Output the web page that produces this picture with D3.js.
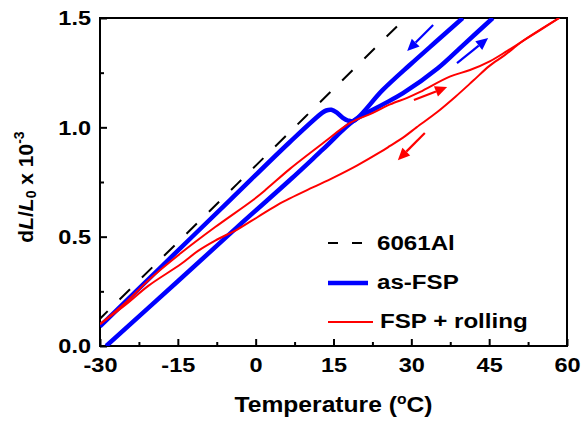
<!DOCTYPE html>
<html>
<head>
<meta charset="utf-8">
<script src="https://cdn.jsdelivr.net/npm/d3@7"></script>
<style>
  body { margin: 0; background: #fff; }
  text { font-family: "Liberation Sans", Arial, sans-serif; font-weight: bold; fill: #000; }
</style>
</head>
<body>
<div id="chart"></div>
<script>
// ---- data ----
var tempTicks = [-30, -15, 0, 15, 30, 45, 60];
var tempMinor = [-22.5, -7.5, 7.5, 22.5, 37.5, 52.5];
var strainTicks = [0.0, 0.5, 1.0, 1.5];
var strainMinor = [0.25, 0.75, 1.25];

// 6061Al reference
var alTemp  = [-30, -3.4, 27.5];
var alValue = [0.125, 0.745, 1.468];

// as-FSP heating (lower branch, up to the right)
var fspHeatTemp  = [-28.8, -15, -3.4, 6.6, 13, 18.9, 24, 28.4, 35.1, 40, 45.7];
var fspHeatValue = [0, 0.296, 0.547, 0.759, 0.9, 1.03, 1.098, 1.156, 1.27, 1.376, 1.5];
// as-FSP cooling (upper branch, with the bump)
var fspCoolTemp  = [39.9, 35, 29.7, 24.5, 18.9, 17.8, 16.8, 15.6, 14.6, 13.6, 12.8, 6.6, -5, -18, -30];
var fspCoolValue = [1.5, 1.397, 1.285, 1.171, 1.03, 1.031, 1.043, 1.068, 1.08, 1.077, 1.066, 0.933, 0.666, 0.367, 0.09];

// FSP + rolling heating
var rollHeatTemp  = [-30, -25, -20.7, -14.4, -7.8, -0.5, 2.2, 6.6, 13, 18.2, 22.6, 25.9, 29.2, 31.7, 37.4, 41.3, 45.2, 48.5, 51.5, 58.5];
var rollHeatValue = [0.1, 0.2, 0.3, 0.425, 0.544, 0.668, 0.72, 0.81, 0.928, 1.02, 1.066, 1.105, 1.135, 1.162, 1.232, 1.262, 1.303, 1.35, 1.395, 1.5];
// FSP + rolling cooling
var rollCoolTemp  = [58.5, 51.5, 48, 45, 42, 38.5, 35, 31, 28.8, 25.9, 23.9, 19.5, 15, 11, 6.6, 4.7, 0.4, -3.4, -7.8, -11.1, -14.4, -20.7, -25, -30];
var rollCoolValue = [1.5, 1.395, 1.33, 1.28, 1.215, 1.14, 1.07, 1.0, 0.96, 0.915, 0.885, 0.825, 0.77, 0.725, 0.675, 0.652, 0.59, 0.535, 0.482, 0.435, 0.375, 0.275, 0.19, 0.1];

// arrows: [tailT, tailV, headT, headV]
var fspArrows  = [[34.2, 1.468, 29.2, 1.349], [38.8, 1.294, 44.8, 1.408]];
var rollArrows = [[30.5, 1.125, 36.9, 1.184], [32.6, 0.974, 27.4, 0.85]];

var seriesNames = ["6061Al", "as-FSP", "FSP + rolling"];

// ---- layout ----
var margin = {top: 18, right: 15, bottom: 78, left: 100},
    width = 582 - margin.left - margin.right,
    height = 424 - margin.top - margin.bottom;
var blue = "#0000ff", red = "#ff0000";
var stretch = 1.12;

var svg = d3.select("#chart").append("svg")
    .attr("width", 582)
    .attr("height", 424)
  .append("g")
    .attr("transform", "translate(" + margin.left + "," + margin.top + ")");

var x = d3.scaleLinear().domain([-30, 60]).range([0, width]);
var y = d3.scaleLinear().domain([0, 1.5]).range([height, 0]);

svg.append("clipPath").attr("id", "clip")
  .append("rect").attr("width", width).attr("height", height);

// axes (ticks inside)
svg.append("g").attr("transform", "translate(0," + height + ")")
    .call(d3.axisBottom(x).tickValues(tempTicks).tickSize(-7).tickPadding(11).tickFormat(function(d) { return String(d); }));
svg.append("g").attr("transform", "translate(0," + height + ")")
    .call(d3.axisBottom(x).tickValues(tempMinor).tickSize(-4).tickFormat(""));
svg.append("g")
    .call(d3.axisLeft(y).tickValues(strainTicks).tickSize(-7).tickPadding(8).tickFormat(d3.format(".1f")));
svg.append("g")
    .call(d3.axisLeft(y).tickValues(strainMinor).tickSize(-4).tickFormat(""));

svg.selectAll(".domain").remove();
svg.selectAll(".tick line").attr("stroke", "#000").attr("stroke-width", 2);
svg.selectAll(".tick text").style("font-size", "21px").attr("fill", "#000")
    .attr("transform", "scale(" + stretch + ",1)");

// frame
svg.append("rect")
    .attr("width", width).attr("height", height)
    .attr("fill", "none").attr("stroke", "#000").attr("stroke-width", 2);

var line = d3.line()
    .x(function(d) { return x(d[0]); })
    .y(function(d) { return y(d[1]); })
    .curve(d3.curveCatmullRom.alpha(0.5));

var plot = svg.append("g").attr("clip-path", "url(#clip)");

plot.append("path").datum(d3.zip(alTemp, alValue))
    .attr("d", line).attr("fill", "none")
    .attr("stroke", "#000").attr("stroke-width", 2)
    .attr("stroke-dasharray", "14.5,16.7").attr("stroke-dashoffset", 3.6);

[[fspHeatTemp, fspHeatValue], [fspCoolTemp, fspCoolValue]].forEach(function(s) {
  plot.append("path").datum(d3.zip(s[0], s[1]))
      .attr("d", line).attr("fill", "none")
      .attr("stroke", blue).attr("stroke-width", 4.5).attr("stroke-linejoin", "round");
});

[[rollHeatTemp, rollHeatValue], [rollCoolTemp, rollCoolValue]].forEach(function(s) {
  plot.append("path").datum(d3.zip(s[0], s[1]))
      .attr("d", line).attr("fill", "none")
      .attr("stroke", red).attr("stroke-width", 2).attr("stroke-linejoin", "round");
});

// arrows
function drawArrow(a, color) {
  var x1 = x(a[0]), y1 = y(a[1]), x2 = x(a[2]), y2 = y(a[3]);
  var ang = Math.atan2(y2 - y1, x2 - x1);
  var len = 12, hw = 5.5;
  var bx = x2 - len * Math.cos(ang), by = y2 - len * Math.sin(ang);
  svg.append("line")
      .attr("x1", x1).attr("y1", y1).attr("x2", bx).attr("y2", by)
      .attr("stroke", color).attr("stroke-width", 2.2);
  svg.append("path")
      .attr("d", "M" + x2 + "," + y2 +
                 "L" + (bx + hw * Math.sin(ang)) + "," + (by - hw * Math.cos(ang)) +
                 "L" + (bx - hw * Math.sin(ang)) + "," + (by + hw * Math.cos(ang)) + "Z")
      .attr("fill", color);
}
fspArrows.forEach(function(a) { drawArrow(a, blue); });
rollArrows.forEach(function(a) { drawArrow(a, red); });

// legend
var lg = svg.append("g").attr("transform", "translate(" + (328 - margin.left) + "," + (243 - margin.top) + ")");
lg.append("line").attr("x1", 0).attr("x2", 34).attr("y1", 0).attr("y2", 0)
    .attr("stroke", "#000").attr("stroke-width", 2).attr("stroke-dasharray", "10,14");
lg.append("line").attr("x1", 0).attr("x2", 40).attr("y1", 40).attr("y2", 40)
    .attr("stroke", blue).attr("stroke-width", 4.5);
lg.append("line").attr("x1", 0).attr("x2", 45).attr("y1", 79).attr("y2", 79)
    .attr("stroke", red).attr("stroke-width", 2);
[[49, 7], [49, 46], [52, 85]].forEach(function(p, i) {
  lg.append("text")
      .attr("transform", "translate(" + p[0] + "," + p[1] + ") scale(1.15,1)")
      .style("font-size", "21px")
      .text(seriesNames[i]);
});

// axis titles
var xt = svg.append("text")
    .attr("transform", "translate(" + (width / 2) + "," + (412 - margin.top) + ") scale(" + stretch + ",1)")
    .attr("text-anchor", "middle")
    .style("font-size", "22px");
xt.append("tspan").text("Temperature (");
xt.append("tspan").attr("dy", -8).style("font-size", "14px").text("o");
xt.append("tspan").attr("dy", 8).text("C)");

var yt = svg.append("text")
    .attr("transform", "translate(" + (33 - margin.left) + "," + (187 - margin.top) + ") rotate(-90)")
    .attr("text-anchor", "middle")
    .style("font-size", "21px");
yt.append("tspan").text("d");
yt.append("tspan").style("font-style", "italic").text("L");
yt.append("tspan").text("/");
yt.append("tspan").style("font-style", "italic").text("L");
yt.append("tspan").attr("dy", 3).style("font-size", "14px").text("0");
yt.append("tspan").attr("dy", -3).text(" x 10");
yt.append("tspan").attr("dy", -9).style("font-size", "14px").text("-3");
</script>
</body>
</html>
